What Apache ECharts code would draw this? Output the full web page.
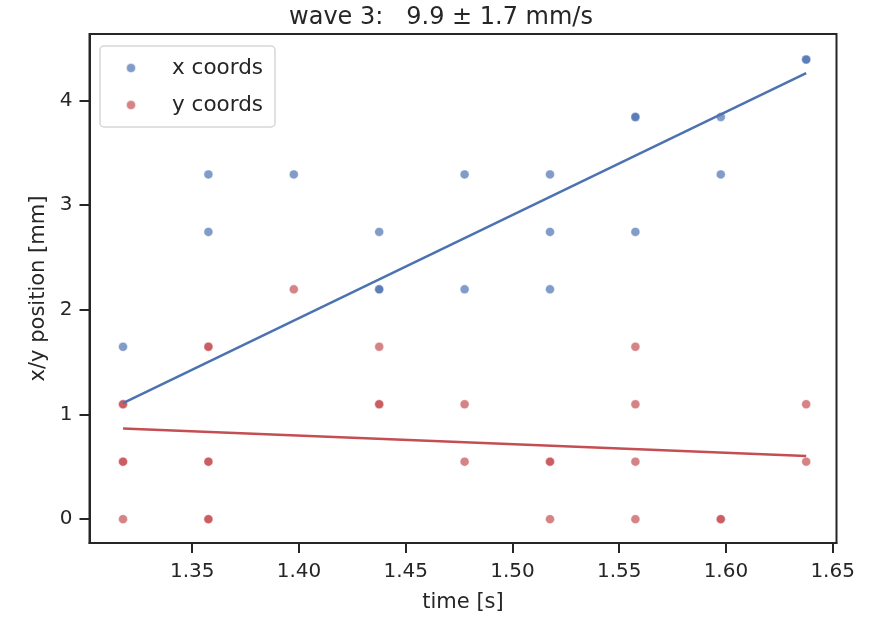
<!DOCTYPE html>
<html>
<head>
<meta charset="utf-8">
<script src="https://cdn.jsdelivr.net/npm/echarts@6/dist/echarts.min.js"></script>
<style>
  html, body { margin: 0; padding: 0; background: #fff; }
  #chart { width: 882px; height: 618px; }
</style>
</head>
<body>
<div id="chart"></div>
<script>
// x coords (blue) points: time [s] / position [mm]
const xCoordT = [1.3176, 1.3576, 1.3576, 1.3976, 1.4376, 1.4376, 1.4376, 1.4776, 1.4776,
  1.5176, 1.5176, 1.5176, 1.5576, 1.5576, 1.5576, 1.5976, 1.5976, 1.6376, 1.6376];
const xCoordPos = [1.647, 3.294, 2.745, 3.294, 2.745, 2.196, 2.196, 3.294, 2.196,
  3.294, 2.745, 2.196, 3.843, 3.843, 2.745, 3.843, 3.294, 4.392, 4.392];

// y coords (red) points
const yCoordT = [1.3176, 1.3176, 1.3176, 1.3176, 1.3176,
  1.3576, 1.3576, 1.3576, 1.3576, 1.3576, 1.3576,
  1.3976, 1.4376, 1.4376, 1.4376, 1.4776, 1.4776,
  1.5176, 1.5176, 1.5176, 1.5576, 1.5576, 1.5576, 1.5576,
  1.5976, 1.5976, 1.6376, 1.6376];
const yCoordPos = [1.098, 1.098, 0.549, 0.549, 0,
  1.647, 1.647, 0.549, 0.549, 0, 0,
  2.196, 1.647, 1.098, 1.098, 1.098, 0.549,
  0.549, 0.549, 0, 1.647, 1.098, 0.549, 0,
  0, 0, 1.098, 0.549];

// linear fits
const fitT = [1.3176, 1.6376];
const xFitPos = [1.109, 4.262];
const yFitPos = [0.865, 0.603];

const xTicks = [1.35, 1.40, 1.45, 1.50, 1.55, 1.60, 1.65];
const yTicks = [0, 1, 2, 3, 4];

const BLUE = '#4C72B0';
const RED = '#C44E52';
const INK = '#262626';
const FONT = 'DejaVu Sans';

function pairs(a, b) {
  return a.map((v, i) => [v, b[i]]);
}

var myChart = echarts.init(document.getElementById('chart'));

let option = {
  animation: false,
  backgroundColor: '#fff',
  textStyle: { fontFamily: FONT, color: INK },
  title: {
    text: 'wave 3:   9.9 ± 1.7 mm/s',
    left: 'center',
    top: 6,
    padding: [0, 0, 0, 44],
    textStyle: { fontFamily: FONT, fontSize: 24, fontWeight: 'normal', color: INK }
  },
  legend: {
    data: ['x coords', 'y coords'],
    orient: 'vertical',
    left: 100,
    top: 46,
    padding: [11, 12, 11, 25],
    itemWidth: 10,
    itemHeight: 10,
    itemGap: 15,
    backgroundColor: '#fff',
    borderColor: '#d6d6d6',
    borderWidth: 1.5,
    borderRadius: 4,
    textStyle: { fontFamily: FONT, fontSize: 21.5, color: INK, lineHeight: 20, padding: [0, 0, 0, 31] }
  },
  grid: {
    left: 89.5,
    right: 45.5,
    top: 34,
    bottom: 72.3,
    show: true,
    borderColor: INK,
    borderWidth: 2,
    backgroundColor: '#fff'
  },
  xAxis: {
    type: 'value',
    min: 1.3019,
    max: 1.6518,
    name: 'time [s]',
    nameLocation: 'middle',
    nameGap: 49,
    nameTextStyle: { fontFamily: FONT, fontSize: 21, color: INK },
    splitLine: { show: false },
    axisLine: { onZero: false, lineStyle: { color: INK, width: 2 } },
    axisTick: { customValues: xTicks, length: 10, lineStyle: { color: INK, width: 2 } },
    axisLabel: {
      customValues: xTicks,
      margin: 19,
      fontFamily: FONT,
      fontSize: 20,
      color: INK,
      formatter: v => v.toFixed(2)
    }
  },
  yAxis: {
    type: 'value',
    min: -0.228,
    max: 4.636,
    name: 'x/y position [mm]',
    nameLocation: 'middle',
    nameGap: 39,
    nameTextStyle: { fontFamily: FONT, fontSize: 21, color: INK },
    splitLine: { show: false },
    axisLine: { onZero: false, lineStyle: { color: INK, width: 2 } },
    axisTick: { customValues: yTicks, length: 10, lineStyle: { color: INK, width: 2 } },
    axisLabel: {
      customValues: yTicks,
      margin: 17,
      fontFamily: FONT,
      fontSize: 20,
      color: INK,
      formatter: v => String(Math.round(v))
    }
  },
  series: [
    {
      name: 'x coords',
      type: 'scatter',
      symbol: 'circle',
      symbolSize: 9,
      data: pairs(xCoordT, xCoordPos),
      itemStyle: { color: BLUE, opacity: 0.7, borderColor: '#fff', borderWidth: 0.6 }
    },
    {
      type: 'line',
      data: pairs(fitT, xFitPos),
      showSymbol: false,
      symbol: 'none',
      lineStyle: { color: BLUE, width: 2.5 },
      silent: true
    },
    {
      name: 'y coords',
      type: 'scatter',
      symbol: 'circle',
      symbolSize: 9,
      data: pairs(yCoordT, yCoordPos),
      itemStyle: { color: RED, opacity: 0.7, borderColor: '#fff', borderWidth: 0.6 }
    },
    {
      type: 'line',
      data: pairs(fitT, yFitPos),
      showSymbol: false,
      symbol: 'none',
      lineStyle: { color: RED, width: 2.5 },
      silent: true
    }
  ]
};

myChart.setOption(option);
</script>
</body>
</html>
